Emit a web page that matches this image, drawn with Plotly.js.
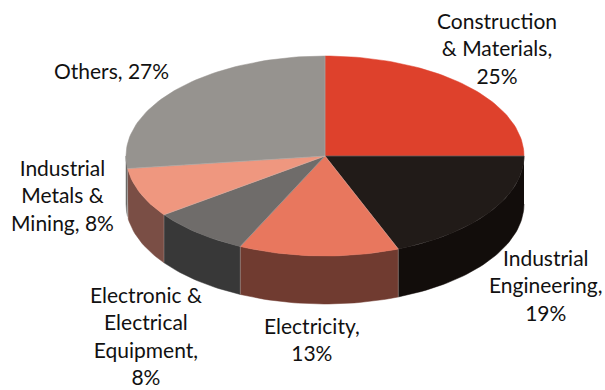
<!DOCTYPE html>
<html>
<head>
<meta charset="utf-8">
<script src="https://cdn.plot.ly/plotly-3.0.1.min.js"></script>
<style>html,body{margin:0;padding:0;background:#fff;}#chart{width:605px;height:390px;}</style>
</head>
<body>
<div id="chart"></div>
<script>
// Sector weights, clockwise from twelve o'clock
const categories = ['Construction & Materials', 'Industrial Engineering', 'Electricity',
  'Electronic & Electrical Equipment', 'Industrial Metals & Mining', 'Others'];
const values = [25, 19, 13, 8, 8, 27];
const labelLines = [
  ['Construction', '& Materials,'],
  ['Industrial', 'Engineering,'],
  ['Electricity,'],
  ['Electronic &', 'Electrical', 'Equipment,'],
  ['Industrial', 'Metals &', 'Mining,'],
  ['Others,']
];
const joinLast = [false, false, false, false, true, true];
const labelX = [497, 546, 312, 146, 62, 111];
const labelY = [48, 285, 339, 335, 195, 70];
const topColors = ['#de412c', '#211b18', '#e8775e', '#6f6c6a', '#ef977f', '#96938f'];
const sideColors = ['#de412c', '#120d0b', '#703b30', '#383838', '#7a4e45', '#6b6967'];

// Tilted disc geometry in plot units
const cx = 325, cy = 156, rx = 199, ry = 100, depth = 48;
const rad = f => f * 2 * Math.PI;
const px = f => cx + rx * Math.sin(rad(f));
const py = f => cy - ry * Math.cos(rad(f));

function arc(a, b) {
  const n = Math.max(2, Math.ceil((b - a) * 240));
  const xs = [], ys = [];
  for (let i = 0; i <= n; i++) {
    const f = a + (b - a) * i / n;
    xs.push(px(f)); ys.push(py(f));
  }
  return {xs, ys};
}

const total = values.reduce((s, v) => s + v, 0);
const starts = [];
values.reduce((s, v, i) => (starts[i] = s, s + v / total), 0);

const traces = [];

// Rim: only the front half of the disc is visible
values.forEach((v, i) => {
  const a = Math.max(starts[i], 0.25), b = Math.min(starts[i] + v / total, 0.75);
  if (b <= a) return;
  const {xs, ys} = arc(a, b);
  traces.push({
    type: 'scatter', mode: 'lines', fill: 'toself', name: categories[i], hoverinfo: 'skip',
    fillcolor: sideColors[i], line: {color: sideColors[i], width: 0.5},
    x: xs.concat(xs.slice().reverse()),
    y: ys.concat(ys.slice().reverse().map(y => y + depth))
  });
});

// Top face wedges
values.forEach((v, i) => {
  const {xs, ys} = arc(starts[i], starts[i] + v / total);
  traces.push({
    type: 'scatter', mode: 'lines', fill: 'toself', name: categories[i], hoverinfo: 'skip',
    fillcolor: topColors[i], line: {color: topColors[i], width: 0.5},
    x: [cx].concat(xs, [cx]), y: [cy].concat(ys, [cy])
  });
});

// Hairline separators between wedges and down the rim
starts.forEach(s => {
  const edge = {color: 'rgba(200,195,190,0.55)', width: 0.6};
  traces.push({type: 'scatter', mode: 'lines', hoverinfo: 'skip', line: edge,
    x: [cx, px(s)], y: [cy, py(s)]});
  if (s > 0.25 && s < 0.75) {
    traces.push({type: 'scatter', mode: 'lines', hoverinfo: 'skip', line: edge,
      x: [px(s), px(s)], y: [py(s), py(s) + depth]});
  }
});

const annotations = values.map((v, i) => {
  const lines = labelLines[i].slice();
  if (joinLast[i]) lines[lines.length - 1] += ' ' + v + '%';
  else lines.push(v + '%');
  return {
    x: labelX[i], y: labelY[i], xref: 'x', yref: 'y', showarrow: false,
    xanchor: 'center', yanchor: 'middle', align: 'center',
    text: lines.join('<br>')
  };
});

Plotly.newPlot('chart', traces, {
  width: 605, height: 390,
  margin: {l: 0, r: 0, t: 0, b: 0},
  paper_bgcolor: '#ffffff', plot_bgcolor: '#ffffff',
  showlegend: false,
  font: {family: 'Lato, sans-serif', size: 21, color: '#111111'},
  xaxis: {range: [0, 605], visible: false, fixedrange: true},
  yaxis: {range: [390, 0], visible: false, fixedrange: true},
  annotations
}, {staticPlot: true, displayModeBar: false});
</script>
</body>
</html>
